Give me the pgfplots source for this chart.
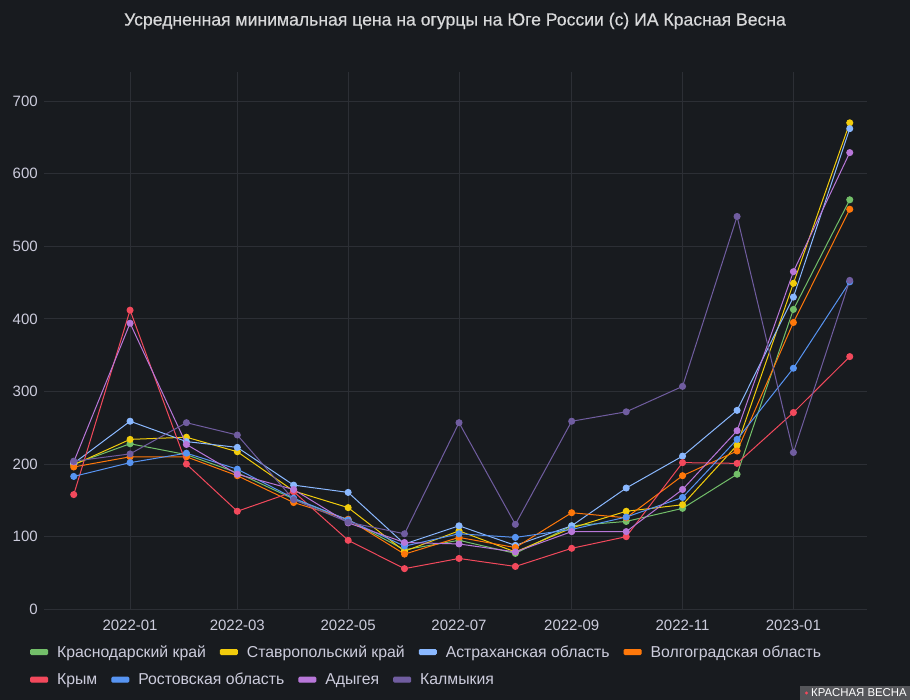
\documentclass[border=0pt]{standalone}
\usepackage{pgfplots}
\usepackage{pgfplotstable}
\pgfplotsset{compat=1.18}
\usepackage{fontspec}
\setmainfont{Liberation Sans}
\newfontfamily\titlefont{Liberation Sans}[FakeBold=0.5]
\definecolor{bg}{HTML}{181B1F}
\definecolor{gridc}{HTML}{2C2F35}
\definecolor{labc}{HTML}{CCCCDC}
\definecolor{titlec}{HTML}{D8D9DA}
\definecolor{cgreen}{HTML}{73BF69}
\definecolor{cyellow}{HTML}{F2CC0C}
\definecolor{clblue}{HTML}{8AB8FF}
\definecolor{corange}{HTML}{FF780A}
\definecolor{cred}{HTML}{F2495C}
\definecolor{cblue}{HTML}{5794F2}
\definecolor{cpurple}{HTML}{B877D9}
\definecolor{cdpurple}{HTML}{705DA0}
\definecolor{wm}{HTML}{55565A}

\pgfplotstableread{
day kr  st  as  vo  cr  ro  ad  ka
0   200 199 201 196 158 183 203 204
31  228 234 259 210 412 202 394 214
62  213 237 231 210 200 215 227 257
90  188 217 223 184 135 193 186 240
121 152 163 171 147 162 153 165 151
151 123 140 161 124 95  123 119 120
182 82  80  90  76  56  87  92  104
212 95  108 115 99  70  104 90  257
243 77  79  88  85  59  99  79  117
274 115 112 115 133 84  110 107 259
304 121 135 167 126 100 127 107 272
335 139 144 211 184 202 154 165 307
365 186 226 274 218 201 234 246 541
396 413 449 430 395 271 332 465 216
427 564 670 662 551 348 451 629 453
}\data

\pgfplotsset{
  base/.style={
    at={(44.3pt,90.7pt)}, anchor=south west,
    scale only axis, width=822.7pt, height=537.3pt,
    xmin=-16.2, xmax=436.5, ymin=0, ymax=740,
    legend columns=-1,
    legend image code/.code={\fill[##1, rounded corners=1pt] (0pt,-2.5pt) rectangle (17pt,2.5pt);},
    legend style={draw=none, fill=none, text=labc, font=\fontsize{15.8}{18}\selectfont,
      /tikz/every odd column/.append style={column sep=7pt},
      /tikz/every even column/.append style={column sep=12pt}},
    legend cell align=left,
  },
  ser/.style={color=#1, line width=1pt, mark=*, mark size=3pt, mark options={fill=#1, draw=#1}},
}

\begin{document}
\begin{tikzpicture}
\fill[bg] (0pt,0pt) rectangle (910pt,700pt);
\node[text=titlec, font=\titlefont\fontsize{17.6}{20}\selectfont] at (455pt,679pt) {Усредненная минимальная цена на огурцы на Юге России (с) ИА Красная Весна};
\begin{axis}[base,
  axis line style={draw=none},
  major tick length=0pt,
  grid=major, grid style={gridc, line width=0.8pt},
  ytick={0,100,...,700},
  xtick={31,90,151,212,274,335,396},
  xticklabels={2022-01,2022-03,2022-05,2022-07,2022-09,2022-11,2023-01},
  /pgf/number format/assume math mode=true,
  ticklabel style={font=\fontsize{15}{18}\selectfont, text=labc},
  xticklabel style={yshift=-7pt},
  yticklabel style={xshift=-3pt},
  legend style={at={(axis description cs:-0.0211,-0.0795)}, anchor=west},
]
\addplot[ser=cgreen] table[x=day,y=kr]{\data};
\addlegendentry{Краснодарский край}
\addplot[ser=cyellow] table[x=day,y=st]{\data};
\addlegendentry{Ставропольский край}
\addplot[ser=clblue] table[x=day,y=as]{\data};
\addlegendentry{Астраханская область}
\addplot[ser=corange] table[x=day,y=vo]{\data};
\addlegendentry{Волгоградская область}
\end{axis}
\begin{axis}[base, hide axis,
  legend style={at={(axis description cs:-0.0211,-0.1310)}, anchor=west},
]
\addplot[ser=cred] table[x=day,y=cr]{\data};
\addlegendentry{Крым}
\addplot[ser=cblue] table[x=day,y=ro]{\data};
\addlegendentry{Ростовская область}
\addplot[ser=cpurple] table[x=day,y=ad]{\data};
\addlegendentry{Адыгея}
\addplot[ser=cdpurple] table[x=day,y=ka]{\data};
\addlegendentry{Калмыкия}
\end{axis}
\fill[wm] (800pt,0pt) rectangle (910pt,14pt);
\fill[cred] (806.5pt,7pt) circle (1.6pt);
\node[anchor=west, inner sep=0pt, text=white, font=\fontsize{11.4}{12}\selectfont] at (811pt,7pt) {КРАСНАЯ ВЕСНА};
\end{tikzpicture}
\end{document}
